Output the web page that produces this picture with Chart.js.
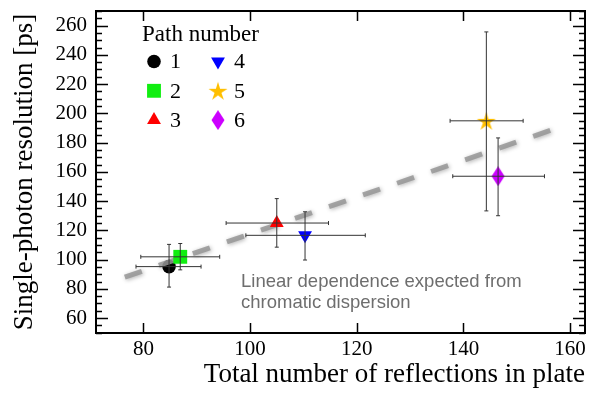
<!DOCTYPE html>
<html>
<head>
<meta charset="utf-8">
<script src="https://cdn.jsdelivr.net/npm/chart.js@4.4.1/dist/chart.umd.min.js"></script>
<style>
  html, body { margin: 0; padding: 0; background: #fff; }
  #wrap { width: 600px; height: 394px; }
</style>
</head>
<body>
<div id="wrap"><canvas id="chart" width="600" height="394"></canvas></div>
<script>
// Data
const paths = ['1', '2', '3', '4', '5', '6'];
const reflections = [84.8, 86.9, 105.0, 110.3, 144.3, 146.5];
const resolution = [95.2, 101.9, 125.0, 116.6, 194.9, 157.0];
const xLow = [78.6, 79.5, 95.5, 99.2, 137.5, 138.0];
const xHigh = [90.8, 94.3, 114.7, 121.6, 151.2, 155.2];
const yLow = [81.2, 93.0, 108.5, 99.7, 133.3, 130.0];
const yHigh = [110.4, 111.0, 141.7, 132.7, 255.7, 183.2];

// dashed expectation line (two end points)
const fitX = [76.5, 158.0];
const fitY = [88.0, 190.5];

const xTicks = [80, 100, 120, 140, 160];
const yTicks = [60, 80, 100, 120, 140, 160, 180, 200, 220, 240, 260];

const colors = ['#000000', '#11ee11', '#ff0000', '#0000ff', '#ffbf00', '#cc00ff'];

const SERIF = '"Liberation Serif", "Times New Roman", serif';
const SANS = '"Liberation Sans", Arial, sans-serif';

// Custom marker images
function makeStar(color) {
    const c = document.createElement('canvas');
    c.width = 22; c.height = 22;
    const g = c.getContext('2d');
    g.fillStyle = color;
    g.beginPath();
    for (let i = 0; i < 10; i++) {
        const r = i % 2 === 0 ? 10 : 3.6;
        const a = -Math.PI / 2 + i * Math.PI / 5;
        const px = 11 + Math.cos(a) * r;
        const py = 12 + Math.sin(a) * r;
        if (i === 0) g.moveTo(px, py); else g.lineTo(px, py);
    }
    g.closePath();
    g.fill();
    return c;
}

function makeDiamond(color) {
    const c = document.createElement('canvas');
    c.width = 14; c.height = 20;
    const g = c.getContext('2d');
    g.fillStyle = color;
    g.beginPath();
    g.moveTo(7, 0);
    g.lineTo(13.5, 10);
    g.lineTo(7, 20);
    g.lineTo(0.5, 10);
    g.closePath();
    g.fill();
    return c;
}

const styles = [
    { pointStyle: 'circle', radius: 6.8, rotation: 0 },
    { pointStyle: 'rect', radius: 9.8, rotation: 0 },
    { pointStyle: 'triangle', radius: 8, rotation: 0 },
    { pointStyle: 'triangle', radius: 8, rotation: 180 },
    { pointStyle: makeStar(colors[4]), radius: 11, rotation: 0 },
    { pointStyle: makeDiamond(colors[5]), radius: 10, rotation: 0 }
];

const datasets = paths.map((p, i) => ({
    type: 'scatter',
    label: p,
    data: [{ x: reflections[i], y: resolution[i] }],
    backgroundColor: colors[i],
    borderColor: colors[i],
    borderWidth: 0,
    pointStyle: styles[i].pointStyle,
    pointRadius: styles[i].radius,
    rotation: styles[i].rotation,
    order: i === 0 ? 3 : 1
}));

datasets.push({
    type: 'line',
    label: 'fit',
    data: fitX.map((x, i) => ({ x: x, y: fitY[i] })),
    borderColor: 'rgba(150,150,150,0.85)',
    borderWidth: 5,
    borderDash: [18, 18],
    borderCapStyle: 'butt',
    pointRadius: 0,
    fill: false,
    order: 2
});

// soft shadow on the dashed line
const lineBlur = {
    id: 'lineBlur',
    beforeDatasetDraw(chart, args) {
        if (chart.data.datasets[args.index].label !== 'fit') return;
        const ctx = chart.ctx;
        ctx.save();
        ctx.shadowColor = 'rgba(0,0,0,0.35)';
        ctx.shadowBlur = 4;
        ctx.shadowOffsetX = 1;
        ctx.shadowOffsetY = 1;
    },
    afterDatasetDraw(chart, args) {
        if (chart.data.datasets[args.index].label !== 'fit') return;
        chart.ctx.restore();
    }
};

// Error bars drawn with the chart scales
const errorBars = {
    id: 'errorBars',
    afterDatasetsDraw(chart) {
        const ctx = chart.ctx;
        const xs = chart.scales.x, ys = chart.scales.y;
        ctx.save();
        ctx.strokeStyle = '#333';
        ctx.lineWidth = 1;
        paths.forEach((p, i) => {
            const cx = xs.getPixelForValue(reflections[i]);
            const cy = ys.getPixelForValue(resolution[i]);
            const x0 = xs.getPixelForValue(xLow[i]);
            const x1 = xs.getPixelForValue(xHigh[i]);
            const y0 = ys.getPixelForValue(yLow[i]);
            const y1 = ys.getPixelForValue(yHigh[i]);
            ctx.beginPath();
            ctx.moveTo(x0, cy); ctx.lineTo(x1, cy);
            ctx.moveTo(cx, y0); ctx.lineTo(cx, y1);
            // caps
            ctx.moveTo(x0, cy - 2); ctx.lineTo(x0, cy + 2);
            ctx.moveTo(x1, cy - 2); ctx.lineTo(x1, cy + 2);
            ctx.moveTo(cx - 2, y0); ctx.lineTo(cx + 2, y0);
            ctx.moveTo(cx - 2, y1); ctx.lineTo(cx + 2, y1);
            ctx.stroke();
        });
        ctx.restore();
    }
};

// Frame with inward ticks on all four sides
const frameTicks = {
    id: 'frameTicks',
    afterDraw(chart) {
        const ctx = chart.ctx;
        const a = chart.chartArea;
        const xs = chart.scales.x, ys = chart.scales.y;
        ctx.save();
        ctx.strokeStyle = '#000';
        ctx.lineWidth = 1.5;
        ctx.beginPath();
        xTicks.forEach(v => {
            const px = Math.round(xs.getPixelForValue(v)) + 0.5;
            ctx.moveTo(px, a.bottom); ctx.lineTo(px, a.bottom - 10);
            ctx.moveTo(px, a.top); ctx.lineTo(px, a.top + 10);
        });
        for (let v = 50; v <= 270; v += 5) {
            if (v < ys.min || v > ys.max) continue;
            const py = Math.round(ys.getPixelForValue(v)) + 0.5;
            const len = v % 20 === 0 ? 12 : 6;
            ctx.moveTo(a.left, py); ctx.lineTo(a.left + len, py);
            ctx.moveTo(a.right, py); ctx.lineTo(a.right - len, py);
        }
        ctx.stroke();
        ctx.lineWidth = 2;
        ctx.strokeRect(a.left, a.top, a.right - a.left, a.bottom - a.top);
        ctx.restore();
    }
};

// Two-column legend and the annotation text
const legendBox = {
    id: 'legendBox',
    afterDraw(chart) {
        const ctx = chart.ctx;
        ctx.save();
        ctx.fillStyle = '#000';
        ctx.font = '23px ' + SERIF;
        ctx.textBaseline = 'alphabetic';
        ctx.textAlign = 'left';
        ctx.fillText('Path number', 142, 41);
        ctx.font = '22px ' + SERIF;
        ctx.textBaseline = 'middle';
        paths.forEach((p, i) => {
            const col = Math.floor(i / 3);
            const row = i % 3;
            const mx = col === 0 ? 154 : 218;
            const my = 61.5 + row * 29.3;
            ctx.fillStyle = colors[i];
            Chart.helpers.drawPoint(ctx, {
                pointStyle: styles[i].pointStyle,
                radius: styles[i].radius,
                rotation: styles[i].rotation,
                borderWidth: 0
            }, mx, my);
            ctx.fillStyle = '#000';
            ctx.fillText(p, mx + 16, my + 1);
        });
        ctx.font = '18.5px ' + SANS;
        ctx.fillStyle = '#6e6e6e';
        ctx.textBaseline = 'alphabetic';
        ctx.fillText('Linear dependence expected from', 241, 287);
        ctx.fillText('chromatic dispersion', 241, 308);
        ctx.restore();
    }
};

const chart = new Chart(document.getElementById('chart'), {
    data: { datasets: datasets },
    options: {
        responsive: false,
        animation: false,
        layout: { padding: { top: 8, right: 15, left: 0, bottom: 0 } },
        plugins: { legend: { display: false }, tooltip: { enabled: false } },
        scales: {
            x: {
                type: 'linear',
                min: 71.1,
                max: 162.8,
                afterBuildTicks: s => { s.ticks = xTicks.map(v => ({ value: v })); },
                afterFit: s => { s.height = 61; s.paddingLeft = 0; s.paddingRight = 0; },
                grid: { display: false, drawTicks: false },
                border: { display: false },
                ticks: { color: '#000', font: { family: SERIF, size: 21 }, padding: 4, maxRotation: 0 },
                title: {
                    display: true,
                    text: 'Total number of reflections in plate',
                    align: 'end',
                    color: '#000',
                    font: { family: SERIF, size: 27, lineHeight: 1 },
                    padding: { top: 0, bottom: 6 }
                }
            },
            y: {
                type: 'linear',
                min: 49.8,
                max: 270,
                afterBuildTicks: s => { s.ticks = yTicks.map(v => ({ value: v })); },
                afterFit: s => { s.width = 96; s.paddingTop = 0; s.paddingBottom = 0; },
                grid: { display: false, drawTicks: false },
                border: { display: false },
                ticks: { color: '#000', font: { family: SERIF, size: 21 }, padding: 9 },
                title: {
                    display: true,
                    text: 'Single-photon resolution [ps]',
                    color: '#000',
                    font: { family: SERIF, size: 27, lineHeight: 1 },
                    padding: { top: 11, bottom: 0 }
                }
            }
        }
    },
    plugins: [lineBlur, errorBars, frameTicks, legendBox]
});
</script>
</body>
</html>
